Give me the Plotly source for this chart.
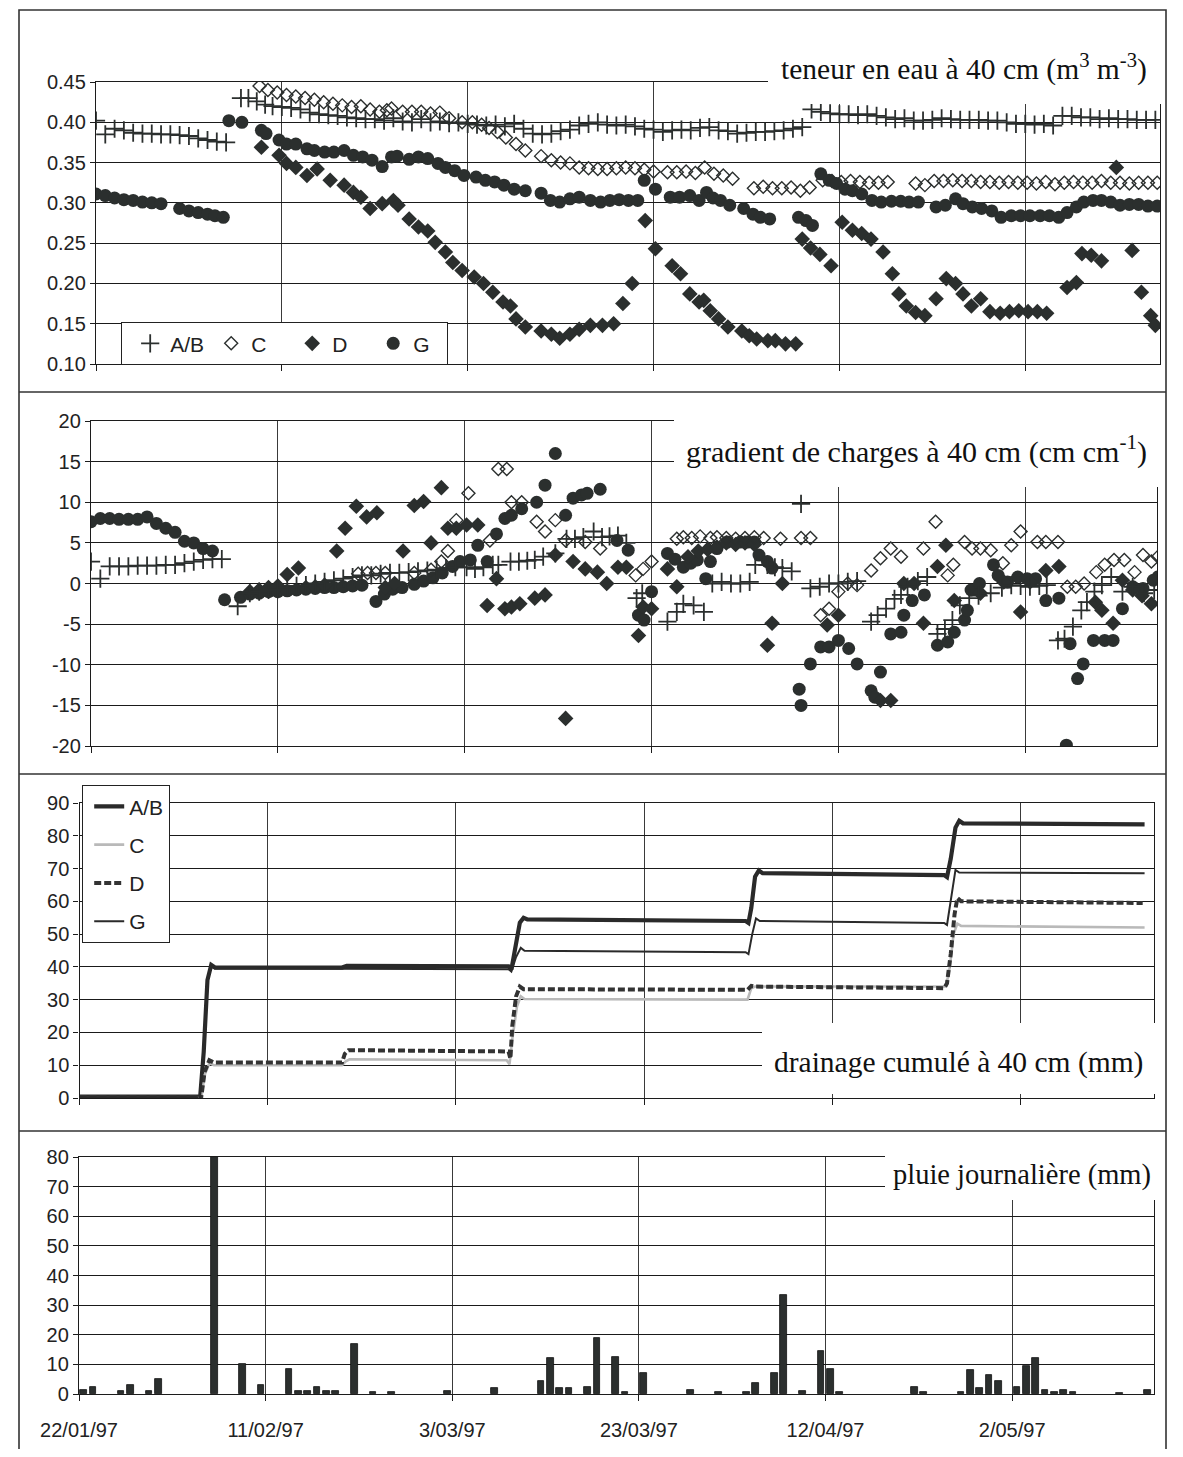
import pandas as pd
import plotly.graph_objects as go

START = pd.Timestamp("1997-01-22")
PAGE_OFF = 8            # default body margin of the html page
W, H = 1183 - 2 * PAGE_OFF, 1457 - 2 * PAGE_OFF
DAY_MS = 86400000

# ---------------- data ----------------
TICK_DATES = ["1997-01-22", "1997-02-11", "1997-03-03", "1997-03-23", "1997-04-12", "1997-05-02"]
TICK_LABELS = ["22/01/97", "11/02/97", "3/03/97", "23/03/97", "12/04/97", "2/05/97"]
Y2_TICKS = [-20, -15, -10, -5, 0, 5, 10, 15, 20]
Y2_LABELS = ["-20", "-15", "-10", "-5", "0", "5", "10", "15", "20"]
SERIES = ["A/B", "C", "D", "G"]

# panel 1 : teneur en eau (days after 22/01/97)
AB_THETA_DAYS = list(range(0, 15)) + [15.6, 16.4, 17.3, 18.2] + list(range(19, 115))
AB_THETA = [0.402, 0.385, 0.392, 0.390, 0.387, 0.386, 0.386, 0.385, 0.385, 0.384, 0.383, 0.380, 0.378, 0.376, 0.375,
            0.430, 0.430, 0.426, 0.422,
            0.420, 0.419, 0.418, 0.416, 0.412, 0.410, 0.409, 0.408, 0.406, 0.405,
            0.404, 0.404, 0.402, 0.405, 0.401, 0.400, 0.404, 0.400, 0.401, 0.399,
            0.400, 0.398, 0.397, 0.396, 0.397, 0.395, 0.398, 0.392, 0.386, 0.385,
            0.386, 0.389, 0.391, 0.396, 0.398, 0.400, 0.397, 0.396, 0.397, 0.395,
            0.392, 0.391, 0.388, 0.390, 0.391, 0.390, 0.393, 0.394, 0.390, 0.389,
            0.386, 0.387, 0.388, 0.388, 0.389, 0.390, 0.392, 0.394, 0.416, 0.413,
            0.411, 0.410, 0.410, 0.409, 0.410, 0.408, 0.406, 0.404, 0.405, 0.402,
            0.402, 0.403, 0.405, 0.404, 0.403, 0.403, 0.403, 0.402, 0.402, 0.400,
            0.398, 0.398, 0.397, 0.398, 0.396, 0.408, 0.408, 0.406, 0.406, 0.404,
            0.405, 0.404, 0.404, 0.403, 0.403, 0.403]

C_THETA_DAYS = [17.6, 18.5, 19.5, 20.5, 21.5, 22.5, 23.5, 24.5, 25.5, 26.5, 27.5, 28.5, 29.5, 30.5,
                31.3, 31.8, 33, 34, 35, 36, 37, 38,
                39.4, 40.5, 41.5, 42.3, 43.2, 44.1, 45.2, 46.2, 47.9,
                49, 50, 51, 52, 53, 54, 55, 56, 57, 58, 59, 60,
                61.5, 62.5, 63.5, 64.5, 65.5, 66.5, 67.5, 68.5,
                70.8, 71.8, 72.8, 73.8, 74.8, 75.8, 76.8,
                78.2, 79.2, 80.2, 81.2, 82.2, 83.2, 84.2, 85.2,
                88.2, 89.2, 90.2, 91.2, 92.2, 93.2, 94.2, 95.2, 96.2, 97.2, 98.2, 99.2, 100.2, 101.2,
                102.2, 103.2, 104.2, 105.2, 106.2, 107.2, 108.2, 109.2, 110.2, 111.2, 112.2, 113.2, 114.2]
C_THETA = [0.445, 0.440, 0.437, 0.434, 0.432, 0.430, 0.428, 0.425, 0.423, 0.421, 0.419, 0.420, 0.416, 0.413,
           0.415, 0.417, 0.413, 0.413, 0.413, 0.411, 0.412, 0.405,
           0.400, 0.400, 0.397, 0.393, 0.388, 0.381, 0.373, 0.365, 0.358,
           0.353, 0.350, 0.349, 0.344, 0.343, 0.342, 0.342, 0.343, 0.344, 0.343, 0.341, 0.339,
           0.338, 0.338, 0.339, 0.337, 0.344, 0.336, 0.334, 0.330,
           0.318, 0.320, 0.318, 0.318, 0.319, 0.315, 0.319,
           0.328, 0.327, 0.326, 0.327, 0.326, 0.325, 0.325, 0.326,
           0.324, 0.322, 0.327, 0.327, 0.328, 0.327, 0.327, 0.326, 0.326, 0.325, 0.326, 0.325, 0.325, 0.324,
           0.326, 0.323, 0.325, 0.326, 0.325, 0.325, 0.327, 0.325, 0.325, 0.324, 0.325, 0.325, 0.325]

D_THETA_DAYS = [17.8, 19.7, 20.5, 21.5, 22.7, 23.8, 25.2, 26.7, 27.7, 28.5,
                29.5, 30.8, 32, 32.5, 33.7, 34.7, 35.7, 36.5, 37.6, 38.4,
                39.4, 40.7, 41.7, 42.7, 43.8, 44.6, 45.2, 46.2, 47.9, 49,
                49.9, 51, 52, 53.2, 54.5, 55.7, 56.7, 57.7, 59.1, 60.2,
                62, 62.9, 63.9, 64.9, 65.4, 66.1, 67, 68, 69.5, 70.3,
                71.1, 72.3, 73.1, 74.2, 75.3, 76, 76.9, 77.9, 79.1, 80.3,
                81.4, 82.4, 83.4, 84.7, 85.7, 86.4, 87.2, 88.2, 89.2, 90.4,
                91.5, 92.5, 93.3, 94.2, 95.2, 96.2, 97.3, 98.3, 99.3, 100.3,
                101.3, 102.3, 104.5, 105.5, 106.1, 107.1, 108.2, 109.8, 111.5, 112.5,
                113.5, 114]
D_THETA = [0.369, 0.359, 0.349, 0.344, 0.334, 0.342, 0.328, 0.322, 0.313, 0.307,
           0.293, 0.299, 0.303, 0.297, 0.280, 0.270, 0.265, 0.251, 0.239, 0.226,
           0.216, 0.208, 0.200, 0.189, 0.177, 0.172, 0.156, 0.146, 0.141, 0.137,
           0.132, 0.137, 0.143, 0.148, 0.148, 0.150, 0.175, 0.200, 0.278, 0.243,
           0.222, 0.212, 0.187, 0.177, 0.179, 0.166, 0.156, 0.146, 0.141, 0.135,
           0.131, 0.129, 0.129, 0.125, 0.125, 0.255, 0.244, 0.236, 0.222, 0.276,
           0.266, 0.262, 0.255, 0.239, 0.212, 0.187, 0.172, 0.164, 0.160, 0.181,
           0.206, 0.200, 0.187, 0.172, 0.181, 0.165, 0.163, 0.165, 0.166, 0.165,
           0.165, 0.163, 0.195, 0.201, 0.237, 0.235, 0.228, 0.344, 0.241, 0.189,
           0.160, 0.148]

G_THETA_DAYS = [0, 1, 2, 3, 4, 5, 6, 7, 9, 10,
                11, 12, 12.8, 13.7, 14.3, 15.7, 17.8, 18.3, 19.7, 20.5,
                21.5, 22.7, 23.5, 24.6, 25.6, 26.7, 27.7, 28.7, 29.7, 30.8,
                31.8, 32.4, 33.7, 34.7, 35.7, 36.8, 37.6, 38.6, 39.6, 40.9,
                41.9, 42.9, 43.9, 45, 46.2, 47.9, 48.9, 49.9, 51, 52,
                53.2, 54.3, 55.3, 56.3, 57.3, 58.3, 59, 60.2, 61.8, 62.8,
                63.9, 64.9, 65.7, 66.4, 67.2, 68.2, 69.7, 70.7, 71.5, 72.5,
                75.6, 76.4, 77.1, 78, 78.9, 79.7, 80.6, 81.4, 82.4, 83.5,
                84.5, 85.6, 86.6, 87.5, 88.5, 90.4, 91.4, 92.5, 93.3, 94.3,
                95.3, 96.4, 97.4, 98.5, 99.5, 100.5, 101.6, 102.6, 103.6, 104.5,
                105.5, 106.3, 107.3, 108.2, 109.2, 110.2, 111.2, 112.2, 113.2, 114.2]
G_THETA = [0.311, 0.309, 0.306, 0.304, 0.303, 0.301, 0.300, 0.299, 0.293, 0.290,
           0.288, 0.286, 0.284, 0.282, 0.402, 0.400, 0.390, 0.386, 0.378, 0.373,
           0.373, 0.367, 0.365, 0.363, 0.363, 0.365, 0.359, 0.357, 0.353, 0.345,
           0.357, 0.358, 0.354, 0.357, 0.355, 0.349, 0.344, 0.340, 0.334, 0.332,
           0.328, 0.326, 0.322, 0.317, 0.315, 0.312, 0.303, 0.301, 0.305, 0.307,
           0.303, 0.301, 0.303, 0.304, 0.303, 0.303, 0.328, 0.317, 0.307, 0.307,
           0.309, 0.303, 0.313, 0.306, 0.303, 0.297, 0.293, 0.286, 0.282, 0.280,
           0.282, 0.278, 0.272, 0.336, 0.328, 0.324, 0.317, 0.315, 0.311, 0.303,
           0.301, 0.302, 0.302, 0.301, 0.301, 0.295, 0.297, 0.305, 0.299, 0.295,
           0.293, 0.290, 0.282, 0.284, 0.284, 0.284, 0.284, 0.284, 0.282, 0.288,
           0.295, 0.301, 0.303, 0.303, 0.301, 0.297, 0.298, 0.298, 0.296, 0.296]

# panel 2 : gradient de charges
AB_GRAD_DAYS = list(range(0, 15)) + [15.7] + list(range(17, 40)) + \
    [40.2, 41.1, 42, 43, 43.6, 44.9, 45.8, 46.7, 47.5, 48.4, 49.7, 50.9, 51.8, 52.7, 53.8, 54.7, 55.5, 56.4, 57.3,
     58.4, 59, 61.7, 62.7, 63.4, 64.5, 65.6,
     66.5, 67.5, 68.5, 69.5, 70.5, 71.1, 72.4, 73.2, 74, 75, 76, 77, 78, 79, 80, 81, 82,
     83.5, 84.2, 85.1, 86, 86.7, 87.4, 88.5, 89.5,
     90.6, 91.4, 92.2, 93, 94, 95, 96.3, 97.5, 98.5, 99.5, 100.5, 101.5, 102.3,
     103.5, 104.2, 105.1, 106, 106.6, 107.4, 108.2, 109.2, 110.4, 111.5, 112.7, 113.8]
AB_GRAD = [2.7, 0.6, 2.1, 2.1, 2.1, 2.2, 2.2, 2.2, 2.3, 2.3, 2.5, 2.7, 2.9, 3.0, 3.0,
           -2.8,
           -1.2, -1.0, -0.8, -0.7, -0.5, -0.3, -0.2, 0.0, 0.2, 0.4, 0.6, 0.8, 1.0, 1.0, 1.2, 1.3, 1.3, 1.4, 1.5, 1.6,
           1.7, 1.9, 2.0,
           2.0, 1.8, 2.0, 2.3, 2.3, 2.7, 2.7, 2.8, 2.9, 3.3, 3.7, 5.5, 5.5, 5.7, 6.4, 5.7, 5.8, 5.9, 5.0,
           -1.8, -1.2, -4.7, -3.5, -2.5, -2.7, -3.5,
           0.0, 0.2, 0.0, 0.0, 0.2, 2.3, 2.3, 2.0, 1.9, 1.5, 9.8, -0.6, -0.4, 0.0, 0.0, 0.2, 0.3,
           -4.7, -3.9, -3.1, -1.9, -1.4, -0.4, 0.3, 0.8,
           -6.2, -5.6, -4.5, -2.7, -1.8, -1.5, -1.2, -0.5, -0.2, -0.3, -0.4, -0.3, -0.2,
           -7.0, -6.8, -5.3, -3.3, -2.3, -1.0, -0.2, 0.8, -1.0, -0.4, -1.2, -0.8]

C_GRAD_DAYS = [28.6, 29.6, 30.5, 31.5, 34.6, 36.4, 37.5, 38.2, 39.1, 40.4,
               42.7, 43.6, 44.5, 45, 46.1, 47.7, 48.6, 49.7, 50.8, 52.9,
               54.5, 58.3, 59.1, 60, 62.7, 63.4, 64.3, 65.2, 66.3, 67,
               68, 69, 70, 71, 72, 73.8, 76, 77, 78.1, 79,
               80, 81, 82, 83.5, 84.5, 85.6, 86.7, 89.1, 90.4, 91.7,
               92.3, 93.5, 94.3, 95.2, 96.3, 97.6, 98.5, 99.5, 101.3, 102.2,
               103.5, 104.5, 105.4, 106.3, 107.6, 108.5, 109.5, 110.6, 111.7, 112.6,
               113.5, 114.2]
C_GRAD = [1.2, 1.3, 1.3, 1.3, 1.3, 1.7, 2.7, 4.0, 7.8, 11.1,
          5.3, 14.1, 14.1, 10.0, 10.0, 7.6, 6.4, 7.8, 5.3, 5.1,
          4.3, 1.0, 1.8, 2.7, 5.5, 5.7, 5.6, 5.8, 5.6, 5.7,
          5.6, 5.5, 5.6, 5.7, 5.6, 5.5, 5.6, 5.6, -3.9, -3.1,
          -1.0, 0.0, -0.2, 1.6, 3.1, 4.3, 3.3, 4.3, 7.6, 1.0,
          2.3, 5.1, 4.3, 4.3, 4.1, 2.5, 4.7, 6.4, 5.1, 5.1,
          5.1, -0.4, -0.4, 0.0, 1.4, 2.3, 2.9, 2.9, 1.4, 3.5,
          2.7, 3.3]

D_GRAD_DAYS = [17, 18, 19, 20, 21, 22.2, 23, 24, 25,
               26.3, 27.2, 28.4, 29.5, 30.6, 31.5, 32.5, 33.4, 34.6, 35.6,
               36.4, 37.5, 38.2, 39.1, 40.2, 41.4, 42.4, 43.4, 44.3, 45,
               45.9, 47.5, 48.6, 49.7, 50.8, 51.6, 52.9, 54.2, 55.2, 56.4,
               57.3, 58.6, 59.1, 60, 61.7, 62.7, 63.9, 65, 66, 67,
               68, 69, 70, 71, 72.4, 72.9, 74, 78.8, 80, 84.5,
               85.6, 87, 88.1, 89.1, 90.6, 91.5, 92.4, 95.2, 97.7, 99.5,
               100.5, 102.2, 103.6, 107.5, 108.2, 109.4, 110.4, 111.5, 112.5, 113.5]
D_GRAD = [-1.0, -0.8, -0.5, -0.3, 1.1, 1.9, -0.5, -0.4, -0.2,
          4.0, 6.8, 9.5, 8.2, 8.7, -0.5, 0.0, 4.0, 9.6, 10.1,
          5.0, 11.8, 6.8, 6.8, 7.2, 7.2, -2.7, 0.6, -3.1, -2.9,
          -2.5, -1.8, -1.4, 3.5, -16.6, 2.7, 1.8, 1.4, 0.0, 2.0,
          2.0, -6.4, -2.9, -3.1, 1.8, -0.4, 3.3, 4.0, 4.2, 4.5,
          5.0, 4.8, 5.0, 4.8, -7.6, -4.9, 0.0, -5.1, -3.9, -14.4,
          -14.4, 0.0, 0.0, -4.9, 2.1, 4.7, -2.1, -1.2, 0.2, -3.5,
          0.2, 1.6, 2.1, -2.3, -3.3, -4.9, 0.4, -0.8, -1.5, -2.5]

G_GRAD_DAYS = list(range(0, 14)) + [14.3] + list(range(16, 30)) + \
    [30.5, 31.4, 32.3, 33.3, 34.6, 35.6, 36.6, 37.6, 38.7, 39.5,
     40.6, 41.4, 42.4, 43.4, 44.3, 45, 46.1, 47.7, 48.6, 49.7,
     50.8, 51.6, 52.5, 53.1, 54.5, 56.3, 57.5, 58.6, 59.2, 60,
     61.7, 62.5, 63.4, 64.2, 64.9, 65.8, 66.3, 67, 68.1, 69.5,
     70.3, 71, 71.5, 72.4, 72.9, 75.8, 76, 77, 78.1, 79,
     80, 81.1, 82, 83.5, 83.9, 84.5, 85.6, 86.7, 87, 87.9,
     89.2, 90.6, 91.7, 92.4, 93.5, 93.8, 94.2, 95.1, 96.6, 97.1,
     98.1, 99.2, 100.2, 101.1, 102.2, 103.6, 104.4, 104.8, 105.6, 106.2,
     107.3, 108.5, 109.4, 110.4, 111.5, 112.6, 113.7, 114.2]
G_GRAD = [7.6, 8.0, 8.0, 7.9, 7.9, 7.9, 8.2, 7.4, 6.8, 6.3, 5.2, 5.0, 4.3, 4.0,
          -2.0,
          -1.7, -1.3, -1.2, -1.0, -1.0, -0.9, -0.8, -0.7, -0.6, -0.5, -0.5, -0.4, -0.3, -0.2,
          -2.2, -1.3, -0.7, -0.5, -0.1, 0.3, 0.7, 1.3, 2.1, 2.7,
          2.9, 4.7, 2.7, 6.1, 8.0, 8.4, 9.2, 10.0, 12.1, 16.0,
          8.4, 10.5, 10.9, 11.1, 11.6, 5.3, 4.1, -3.9, -4.5, -1.0,
          3.7, 3.0, 2.0, 2.5, 2.9, 0.6, 2.7, 4.3, 5.1, 5.1,
          5.1, 5.1, 3.5, 2.7, 1.9, -13.0, -15.0, -9.9, -7.8, -7.8,
          -7.0, -8.0, -9.9, -13.2, -14.0, -10.9, -6.2, -6.0, -3.9, -2.1,
          -1.4, -7.6, -7.2, -6.0, -4.5, -3.3, -0.8, 0.0, 2.3, 1.0,
          0.2, 0.8, 0.6, 0.6, -2.1, -1.8, -19.9, -7.4, -11.7, -9.9,
          -7.0, -7.0, -7.0, -3.1, -0.4, -0.6, 0.4, 0.8]

# panel 3 : drainage cumulé (breakpoints of the smoothed curves)
AB_DRAIN_DAYS = [0, 12.5, 12.8, 13.2, 13.6, 14.0, 14.4, 27.9, 28.4, 45.6, 45.9, 46.3, 46.8, 47.2, 47.6,
                 70.8, 71.1, 71.4, 71.8, 72.2, 72.6, 91.9, 92.2, 92.6, 93.1, 93.5, 93.9, 113.2]
AB_DRAIN = [0.4, 0.4, -0.6, 14, 36, 40.6, 39.8, 39.8, 40.3, 40.2, 39.2, 45, 53.5, 55.0, 54.5,
            54.0, 53.4, 58, 67.5, 69.4, 68.6, 68.0, 67.4, 73, 82.5, 84.6, 83.8, 83.5]
C_DRAIN_DAYS = [0, 12.6, 12.9, 13.3, 13.8, 14.3, 27.9, 28.3, 28.7, 45.4, 45.7, 46.0, 46.5, 46.9, 47.3,
                71.0, 71.4, 71.8, 92.1, 92.5, 92.9, 93.3, 93.7, 113.2]
C_DRAIN = [0.0, 0.0, -0.8, 7, 10.6, 10.0, 10.0, 11.2, 11.8, 11.5, 10.3, 18, 28, 31.0, 30.2,
           30.0, 33.5, 34.0, 34.0, 40, 50, 53.2, 52.5, 52.0]
D_DRAIN_DAYS = [0, 12.6, 12.9, 13.3, 13.8, 14.3, 27.9, 28.2, 28.6, 45.6, 45.8, 46.0, 46.4, 46.8, 47.2,
                71.0, 71.4, 71.8, 91.9, 92.2, 92.6, 93.0, 93.3, 93.7, 113.0]
D_DRAIN = [0.3, 0.3, -0.5, 8, 11.5, 10.8, 10.8, 13.5, 14.6, 14.2, 12, 22, 31, 34.0, 33.2,
           33.0, 34.2, 34.0, 33.5, 35, 44, 56, 61.0, 60.0, 59.5]
G_DRAIN_DAYS = [0, 12.5, 12.8, 13.2, 13.6, 14.0, 14.4, 45.6, 45.9, 46.4, 46.9, 47.3,
                70.8, 71.1, 71.5, 71.9, 72.3, 91.9, 92.2, 92.7, 93.1, 93.5, 113.2]
G_DRAIN = [0.2, 0.2, -0.6, 14, 36, 40.2, 39.5, 39.3, 38.6, 43, 45.8, 44.9,
           44.5, 43.9, 50, 54.8, 54.0, 53.4, 52.8, 62, 69.6, 68.8, 68.6]

# panel 4 : pluie journalière
RAIN_DAYS = [0, 1, 4, 5, 7, 8, 14, 17, 19, 22, 23, 24, 25, 26, 27, 29, 31, 33, 39, 44,
             49, 50, 51, 52, 54, 55, 57, 58, 60, 65, 68, 71, 72, 74, 75, 77, 79, 80, 81,
             89, 90, 94, 95, 96, 97, 98, 100, 101, 102, 103, 104, 105, 106, 111, 114]
RAIN_MM = [1.5, 2.5, 1, 3, 1, 5, 80, 10, 3, 8.5, 1, 1, 2.2, 1, 1, 17, 0.6, 0.6, 1.1, 2,
           4.5, 12, 2, 2, 2.2, 19, 12.5, 0.8, 7, 1.5, 0.8, 0.8, 3.8, 7, 33.5, 0.9, 14.5, 8.5, 0.8,
           2.5, 0.6, 0.6, 8, 2, 6.5, 4.5, 2.5, 9.5, 12, 1.5, 0.6, 1.5, 0.6, 0.5, 1.5]

for a, b in [(AB_THETA_DAYS, AB_THETA), (C_THETA_DAYS, C_THETA), (D_THETA_DAYS, D_THETA),
             (G_THETA_DAYS, G_THETA), (AB_GRAD_DAYS, AB_GRAD), (C_GRAD_DAYS, C_GRAD),
             (D_GRAD_DAYS, D_GRAD), (G_GRAD_DAYS, G_GRAD), (AB_DRAIN_DAYS, AB_DRAIN),
             (C_DRAIN_DAYS, C_DRAIN), (D_DRAIN_DAYS, D_DRAIN), (G_DRAIN_DAYS, G_DRAIN),
             (RAIN_DAYS, RAIN_MM)]:
    assert len(a) == len(b), (len(a), len(b))


def to_dates(days):
    return [START + pd.Timedelta(days=float(d)) for d in days]


# ---------------- styling ----------------
INK = "#2b2f2e"
LINE = "#1c1c1c"
SANS = "Arial, 'Liberation Sans', sans-serif"
SERIF = "'Times New Roman', 'Liberation Serif', serif"
TICK_SIZE = 20
LEGEND_SIZE = 21


def px_x(p):
    """page pixel -> paper fraction"""
    return (p - PAGE_OFF) / W


def px_y(p):
    return 1 - (p - PAGE_OFF) / H


PANELS = {
    1: dict(x=(96, 1160), y=(82, 364), span=114.5, rng=[0.10, 0.45], dtick=0.05, fmt=".2f"),
    2: dict(x=(91, 1157), y=(421, 746), span=114.1, rng=[-20, 20], dtick=5, fmt=""),
    3: dict(x=(79.5, 1154), y=(803, 1098), span=114.2, rng=[0, 90], dtick=10, fmt=""),
    4: dict(x=(79, 1154), y=(1157, 1394), span=115.2, rng=[0, 80], dtick=10, fmt=""),
}

MARKERS = {
    "A/B": dict(symbol="cross-thin", size=13, color=INK, line=dict(color=INK, width=1.8)),
    "C": dict(symbol="diamond-open", size=10, color=INK, line=dict(color=INK, width=1.4)),
    "D": dict(symbol="diamond", size=12, color=INK, line=dict(width=0)),
    "G": dict(symbol="circle", size=13, color=INK, line=dict(width=0)),
}

fig = go.Figure()

theta = {"A/B": (AB_THETA_DAYS, AB_THETA), "C": (C_THETA_DAYS, C_THETA),
         "D": (D_THETA_DAYS, D_THETA), "G": (G_THETA_DAYS, G_THETA)}
for name in SERIES:
    d, v = theta[name]
    fig.add_trace(go.Scatter(x=to_dates(d), y=v, mode="markers", name=name, marker=MARKERS[name],
                             xaxis="x", yaxis="y", legend="legend", showlegend=True))

grad = {"A/B": (AB_GRAD_DAYS, AB_GRAD), "C": (C_GRAD_DAYS, C_GRAD),
        "D": (D_GRAD_DAYS, D_GRAD), "G": (G_GRAD_DAYS, G_GRAD)}
for name in ["G", "D", "C", "A/B"]:
    d, v = grad[name]
    fig.add_trace(go.Scatter(x=to_dates(d), y=v, mode="markers", name=name, marker=MARKERS[name],
                             xaxis="x2", yaxis="y2", showlegend=False))

LINES = {
    "A/B": dict(color="#2a2a2a", width=4.2),
    "C": dict(color="#b9b9b9", width=2.6),
    "D": dict(color="#333333", width=4, dash="7px,3px"),
    "G": dict(color="#2a2a2a", width=2),
}
drain = {"A/B": (AB_DRAIN_DAYS, AB_DRAIN), "C": (C_DRAIN_DAYS, C_DRAIN),
         "D": (D_DRAIN_DAYS, D_DRAIN), "G": (G_DRAIN_DAYS, G_DRAIN)}
for name in SERIES:
    d, v = drain[name]
    fig.add_trace(go.Scatter(x=to_dates(d), y=v, mode="lines", name=name, line=LINES[name],
                             xaxis="x3", yaxis="y3", legend="legend2", legendgroup=name, showlegend=True))

fig.add_trace(go.Bar(x=to_dates(RAIN_DAYS), y=RAIN_MM, xaxis="x4", yaxis="y4", showlegend=False,
                     width=0.72 * DAY_MS, offset=0.15 * DAY_MS,
                     marker=dict(color=INK, line=dict(color="#111", width=0.8))))

layout = dict(template="none", width=W, height=H,
              margin=dict(l=0, r=0, t=0, b=0, pad=0, autoexpand=False),
              paper_bgcolor="white", plot_bgcolor="white", bargap=0,
              font=dict(family=SANS, size=TICK_SIZE, color="#222"))

for i, p in PANELS.items():
    sx = "" if i == 1 else str(i)
    end = START + pd.Timedelta(days=p["span"])
    layout["xaxis" + sx] = dict(
        domain=[px_x(p["x"][0]), px_x(p["x"][1])], anchor="y" + sx, type="date", automargin=False,
        range=[START.strftime("%Y-%m-%d %H:%M:%S"), end.strftime("%Y-%m-%d %H:%M:%S")],
        tickmode="array", tickvals=TICK_DATES, ticktext=TICK_LABELS,
        showticklabels=(i == 4), ticks="outside", ticklen=6, tickcolor=LINE, tickwidth=1.2,
        showgrid=True, gridcolor="#3a3a3a", gridwidth=1,
        showline=True, mirror=True, linecolor=LINE, linewidth=1.3, zeroline=False,
        tickfont=dict(family=SANS, size=TICK_SIZE, color="#222"), ticklabelstandoff=12)
    yax = dict(
        domain=[px_y(p["y"][1]), px_y(p["y"][0])], anchor="x" + sx, automargin=False,
        range=p["rng"], dtick=p["dtick"], tick0=0, tickformat=p["fmt"],
        ticks="outside", ticklen=5, tickcolor=LINE, tickwidth=1.2,
        showgrid=True, gridcolor="#1a1a1a", gridwidth=1.3, zeroline=False,
        showline=True, mirror=True, linecolor=LINE, linewidth=1.3,
        tickfont=dict(family=SANS, size=TICK_SIZE, color="#222"))
    if i == 2:
        yax.update(tickmode="array", tickvals=Y2_TICKS, ticktext=Y2_LABELS)
    layout["yaxis" + sx] = yax

layout["legend"] = dict(x=px_x(121), y=px_y(322), xanchor="left", yanchor="top", orientation="h",
                        bgcolor="white", bordercolor="#222", borderwidth=1.2,
                        font=dict(family=SANS, size=LEGEND_SIZE, color="#222"),
                        entrywidth=28, itemwidth=30, indentation=8)
layout["legend2"] = dict(x=px_x(82), y=px_y(785), xanchor="left", yanchor="top", orientation="v",
                         bgcolor="white", bordercolor="#222", borderwidth=1.2,
                         font=dict(family=SANS, size=LEGEND_SIZE, color="#222"),
                         tracegroupgap=8, itemwidth=30, indentation=6)

shapes = []
# white boxes behind the panel titles
for (x0, y0, x1, y1) in [(768, 40, 1163, 104), (674, 408, 1162, 487),
                         (762, 1023, 1162, 1094), (885, 1140, 1162, 1200)]:
    shapes.append(dict(type="rect", xref="paper", yref="paper", x0=px_x(x0), x1=px_x(x1),
                       y0=px_y(y1), y1=px_y(y0), fillcolor="white", line=dict(width=0), layer="above"))
# outer frame and panel separators
shapes.append(dict(type="rect", xref="paper", yref="paper", x0=px_x(19), x1=px_x(1166),
                   y0=px_y(1470), y1=px_y(10), line=dict(color="#333", width=1.6), layer="above"))
for yy in [392, 774, 1131]:
    shapes.append(dict(type="line", xref="paper", yref="paper", x0=px_x(19), x1=px_x(1166),
                       y0=px_y(yy), y1=px_y(yy), line=dict(color="#333", width=1.6), layer="above"))
layout["shapes"] = shapes

TITLES = [("teneur en eau à 40 cm (m<sup>3</sup> m<sup>-3</sup>)", 1149, 67, 29.5),
          ("gradient de charges à 40 cm (cm cm<sup>-1</sup>)", 1149, 449, 30),
          ("drainage cumulé à 40 cm (mm)", 1145, 1062, 29.5),
          ("pluie journalière (mm)", 1153, 1175, 28.5)]
layout["annotations"] = [dict(text=t, x=px_x(x), y=px_y(y), xref="paper", yref="paper",
                              xanchor="right", yanchor="middle", showarrow=False,
                              font=dict(family=SERIF, size=s, color="#111"))
                         for t, x, y, s in TITLES]

fig.update_layout(**layout)
fig.write_html("out.html")
